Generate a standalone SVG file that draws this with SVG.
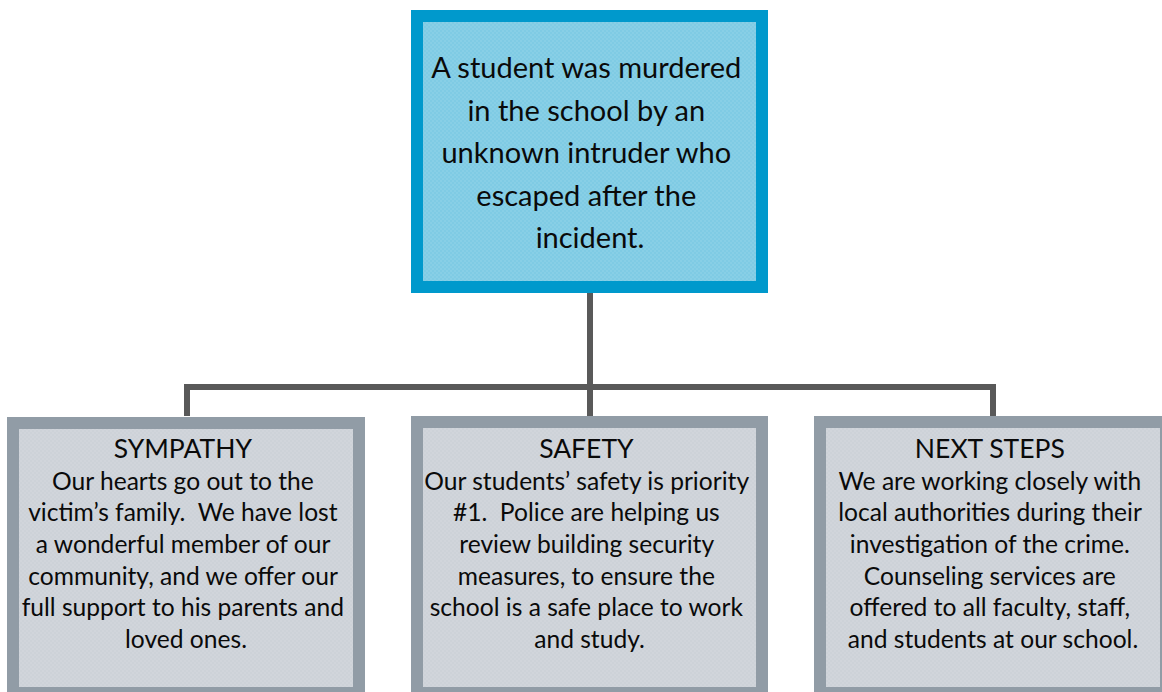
<svg xmlns="http://www.w3.org/2000/svg" width="1162" height="692" viewBox="0 0 1162 692">
  <style>
    .lead-box { fill: #7FCBE4; stroke: #0099CC; stroke-width: 12; }
    .topic-box { fill: #CDD2D8; stroke: #919CA6; stroke-width: 12; }
    .texture { fill: url(#weave); pointer-events: none; }
    .wire { fill: none; stroke: #595959; stroke-width: 6; stroke-linejoin: miter; }
    text { font-family: Lato, "Open Sans", "Liberation Sans", sans-serif; fill: #0A0A0A; text-anchor: middle; }
    .lead-text { font-size: 29px; }
    .topic-text { font-size: 24.6px; }
    .heading { font-size: 26.5px; }
  </style>
  <defs>
    <pattern id="weave" width="4" height="4" patternUnits="userSpaceOnUse">
      <rect x="0" y="0" width="2" height="2" fill="#FFFFFF" opacity="0.07"/>
      <rect x="2" y="2" width="2" height="2" fill="#FFFFFF" opacity="0.07"/>
    </pattern>
  </defs>

  <rect x="0" y="0" width="1162" height="692" fill="#FFFFFF"/>

  <!-- tree connectors -->
  <g id="connectors">
    <path class="wire" d="M590 293 V387"/>
    <path class="wire" d="M187 416 V387 H993 V416"/>
    <path class="wire" d="M590 387 V416"/>
  </g>

  <!-- incident summary -->
  <g id="incident">
    <rect class="lead-box" x="417" y="16" width="345" height="271"/>
    <rect class="texture" x="423" y="22" width="333" height="259"/>
    <text class="lead-text">
      <tspan x="590" y="78">A student was murdered</tspan>
      <tspan x="590" y="120.5">in the school by an</tspan>
      <tspan x="590" y="163">unknown intruder who</tspan>
      <tspan x="590" y="205.5">escaped after the</tspan>
      <tspan x="590" y="248">incident.</tspan>
    </text>
  </g>

  <!-- sympathy -->
  <g id="sympathy">
    <rect class="topic-box" x="13" y="423" width="346" height="270"/>
    <rect class="texture" x="19" y="429" width="334" height="258"/>
    <text class="topic-text">
      <tspan class="heading" x="186" y="458">SYMPATHY</tspan>
      <tspan x="186" y="489.7">Our hearts go out to the</tspan>
      <tspan x="186" y="521.3">victim’s family.&#160; We have lost</tspan>
      <tspan x="186" y="553">a wonderful member of our</tspan>
      <tspan x="186" y="584.7">community, and we offer our</tspan>
      <tspan x="186" y="616.3">full support to his parents and</tspan>
      <tspan x="186" y="648">loved ones.</tspan>
    </text>
  </g>

  <!-- safety -->
  <g id="safety">
    <rect class="topic-box" x="417" y="422" width="345" height="271"/>
    <rect class="texture" x="423" y="428" width="333" height="259"/>
    <text class="topic-text">
      <tspan class="heading" x="589.5" y="458">SAFETY</tspan>
      <tspan x="589.5" y="489.7">Our students’ safety is priority</tspan>
      <tspan x="589.5" y="521.3">#1.&#160; Police are helping us</tspan>
      <tspan x="589.5" y="553">review building security</tspan>
      <tspan x="589.5" y="584.7">measures, to ensure the</tspan>
      <tspan x="589.5" y="616.3">school is a safe place to work</tspan>
      <tspan x="589.5" y="648">and study.</tspan>
    </text>
  </g>

  <!-- next steps -->
  <g id="next-steps">
    <rect class="topic-box" x="820" y="422" width="346" height="271"/>
    <rect class="texture" x="826" y="428" width="334" height="259"/>
    <text class="topic-text">
      <tspan class="heading" x="993" y="458">NEXT STEPS</tspan>
      <tspan x="993" y="489.7">We are working closely with</tspan>
      <tspan x="993" y="521.3">local authorities during their</tspan>
      <tspan x="993" y="553">investigation of the crime.</tspan>
      <tspan x="993" y="584.7">Counseling services are</tspan>
      <tspan x="993" y="616.3">offered to all faculty, staff,</tspan>
      <tspan x="993" y="648">and students at our school.</tspan>
    </text>
  </g>
</svg>
